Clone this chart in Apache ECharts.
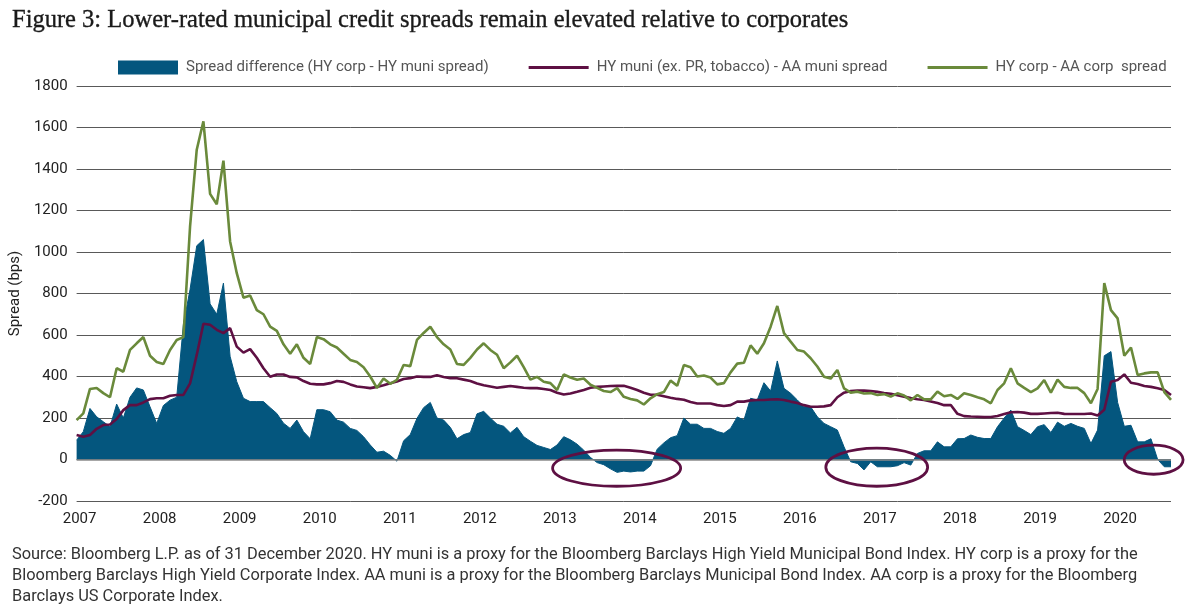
<!DOCTYPE html>
<html>
<head>
<meta charset="utf-8">
<script src="https://cdn.jsdelivr.net/npm/echarts@6/dist/echarts.min.js"></script>
<style>
html,body{margin:0;padding:0;background:#fff;}
#chart{width:1190px;height:609px;}
</style>
</head>
<body>
<div id="chart"></div>
<script>
// Time grid (label-year units as on the chart's axis), roughly monthly
const X_START = 2006.9626;
const X_END = 2020.637;
const YEAR_TICKS = [2007,2008,2009,2010,2011,2012,2013,2014,2015,2016,2017,2018,2019,2020];

// Spread difference (HY corp - HY muni spread), bps
const spreadDiff = [
 93,134,246,206,182,158,267,200,300,345,335,254,174,260,286,300,650,820,1030,1060,
 750,700,850,497,375,295,279,279,279,250,222,175,150,190,134,100,240,240,230,190,
 180,150,140,110,70,35,40,20,-8,90,120,198,250,275,200,190,155,100,120,130,
 220,232,200,170,160,128,155,110,88,68,58,48,70,110,95,74,45,10,-15,-25,
 -45,-62,-56,-60,-56,-56,-30,50,80,105,115,200,170,170,150,150,135,126,150,205,
 190,295,287,370,330,475,343,319,287,254,254,206,174,158,142,61,-11,-19,-50,-11,
 -35,-35,-35,-30,-15,-27,29,42,42,85,61,61,100,101,118,107,101,101,158,200,
 238,158,140,120,158,168,130,180,160,174,160,150,77,142,500,520,275,160,165,85,
 85,100,0,-35,-35
];

// HY muni (ex. PR, tobacco) - AA muni spread, bps
const muniSpread = [
 118,110,118,148,166,169,195,238,262,262,275,291,295,295,307,311,311,367,504,654,
 649,625,609,633,544,515,532,490,440,399,410,410,398,396,378,365,362,362,368,378,
 374,362,352,348,344,350,358,368,376,388,392,400,398,398,406,398,392,392,385,378,
 366,358,352,346,350,354,350,346,344,344,340,335,322,313,318,326,335,346,350,352,
 354,355,355,346,335,322,312,312,305,298,292,288,277,270,270,270,262,258,262,279,
 279,285,287,287,289,290,287,279,272,262,254,254,256,262,300,322,330,332,332,330,
 326,320,317,310,303,296,290,287,280,272,262,263,220,209,207,206,204,205,210,219,
 228,229,226,220,220,222,224,225,220,219,219,219,222,212,240,375,383,410,370,364,
 354,350,343,335,311
];

// HY corp - AA corp spread, bps
const corpSpread = [
 190,222,340,345,320,300,440,423,528,560,590,500,470,460,528,576,590,1123,1493,1630,
 1280,1230,1440,1051,898,780,790,720,700,640,620,555,510,555,490,460,590,580,555,540,
 510,480,470,445,400,345,390,365,384,455,450,576,610,640,590,555,530,460,456,490,
 530,560,528,505,440,468,500,445,385,398,375,368,335,410,395,384,390,360,345,330,
 325,344,302,292,285,265,295,315,325,380,355,455,445,400,405,395,362,368,420,462,
 466,550,510,560,640,740,609,568,528,520,488,448,399,390,431,343,322,327,318,320,
 311,315,303,319,308,285,311,290,290,327,305,311,292,319,311,300,290,271,335,367,
 440,367,345,325,343,383,322,385,350,345,345,320,271,340,850,720,680,500,540,407,
 415,420,420,325,287
];

// Annotation ellipses around negative spread-difference periods [x, y, rx(years), ry(bps)]
const HIGHLIGHTS = [
 [2013.71, -42, 0.80, 87],
 [2016.96, -37, 0.636, 92],
 [2020.42, -1, 0.368, 70]
];

const SERIES_NAMES = [
 'Spread difference (HY corp - HY muni spread)',
 'HY muni (ex. PR, tobacco) - AA muni spread',
 'HY corp - AA corp  spread'
];

const BLUE = '#04567e', MAROON = '#5e1043', GREEN = '#6a8a3b';
const FONT = 'Roboto, "Liberation Sans", sans-serif';

const n = spreadDiff.length;
const xs = [];
for (let i = 0; i < n; i++) xs.push(X_START + i * (X_END - X_START) / (n - 1));
const pair = arr => arr.map((v, i) => [xs[i], v]);

const chart = echarts.init(document.getElementById('chart'), null, {renderer: 'canvas'});
const option = {
  animation: false,
  backgroundColor: '#fff',
  title: [
    {
      text: 'Figure 3: Lower-rated municipal credit spreads remain elevated relative to corporates',
      left: 7, top: 3,
      textStyle: {fontFamily: '"Liberation Serif", "DejaVu Serif", serif', fontSize: 24.5, fontWeight: 'normal', color: '#1a1a1a', textBorderColor: '#1a1a1a', textBorderWidth: 0.35}
    },
    {
      text: 'Source: Bloomberg L.P. as of 31 December 2020. HY muni is a proxy for the Bloomberg Barclays High Yield Municipal Bond Index. HY corp is a proxy for the\nBloomberg Barclays High Yield Corporate Index. AA muni is a proxy for the Bloomberg Barclays Municipal Bond Index. AA corp is a proxy for the Bloomberg\nBarclays US Corporate Index.',
      left: 7, top: 539,
      textStyle: {fontFamily: FONT, fontSize: 16.4, fontWeight: 'normal', color: '#333', lineHeight: 21}
    }
  ],
  legend: {
    left: 113, top: 55,
    itemWidth: 60, itemHeight: 14, itemGap: 40,
    textStyle: {fontFamily: FONT, fontSize: 15, color: '#555', padding: [0, 0, 0, 3]},
    data: [
      {name: SERIES_NAMES[0], icon: 'rect'},
      {name: SERIES_NAMES[1], icon: 'path://M0,0H60V3H0Z'},
      {name: SERIES_NAMES[2], icon: 'path://M0,0H60V3H0Z'}
    ]
  },
  grid: {left: 75, right: 19, top: 86, bottom: 108},
  xAxis: {
    type: 'value', min: X_START, max: X_END,
    axisLine: {show: false}, axisTick: {show: false}, splitLine: {show: false},
    axisLabel: {customValues: YEAR_TICKS, formatter: v => String(Math.round(v)), fontFamily: FONT, fontSize: 15, color: '#222', margin: 11}
  },
  yAxis: {
    type: 'value', min: -200, max: 1800, interval: 200,
    name: 'Spread (bps)', nameLocation: 'middle', nameGap: 50, nameRotate: 90,
    nameTextStyle: {fontFamily: FONT, fontSize: 15, color: '#222'},
    axisLine: {show: false}, axisTick: {show: false},
    axisLabel: {formatter: v => String(v), fontFamily: FONT, fontSize: 15, color: '#222', margin: 9},
    splitLine: {lineStyle: {color: '#595959', width: 1}}
  },
  series: [
    {
      name: SERIES_NAMES[0], type: 'line', data: pair(spreadDiff),
      showSymbol: false, symbol: 'none',
      lineStyle: {color: BLUE, width: 1}, itemStyle: {color: BLUE},
      areaStyle: {color: BLUE, opacity: 1},
      z: 2,
      markLine: {
        silent: true, symbol: 'none', label: {show: false},
        lineStyle: {color: '#8a8a8a', width: 1.5, type: 'solid'},
        data: [{yAxis: 0}]
      }
    },
    {
      name: SERIES_NAMES[1], type: 'line', data: pair(muniSpread),
      showSymbol: false, symbol: 'none',
      lineStyle: {color: MAROON, width: 2.6}, itemStyle: {color: MAROON}, z: 3
    },
    {
      name: SERIES_NAMES[2], type: 'line', data: pair(corpSpread),
      showSymbol: false, symbol: 'none',
      lineStyle: {color: GREEN, width: 2.6}, itemStyle: {color: GREEN}, z: 4
    }
  ]
};
chart.setOption(option);

const ellipses = HIGHLIGHTS.map(h => {
  const c = chart.convertToPixel({xAxisIndex: 0, yAxisIndex: 0}, [h[0], h[1]]);
  const e = chart.convertToPixel({xAxisIndex: 0, yAxisIndex: 0}, [h[0] + h[2], h[1] + h[3]]);
  return {
    type: 'ellipse', z: 10, silent: true,
    shape: {cx: c[0], cy: c[1], rx: Math.abs(e[0] - c[0]), ry: Math.abs(c[1] - e[1])},
    style: {fill: 'none', stroke: MAROON, lineWidth: 2.8}
  };
});
chart.setOption({graphic: ellipses});
</script>
</body>
</html>
